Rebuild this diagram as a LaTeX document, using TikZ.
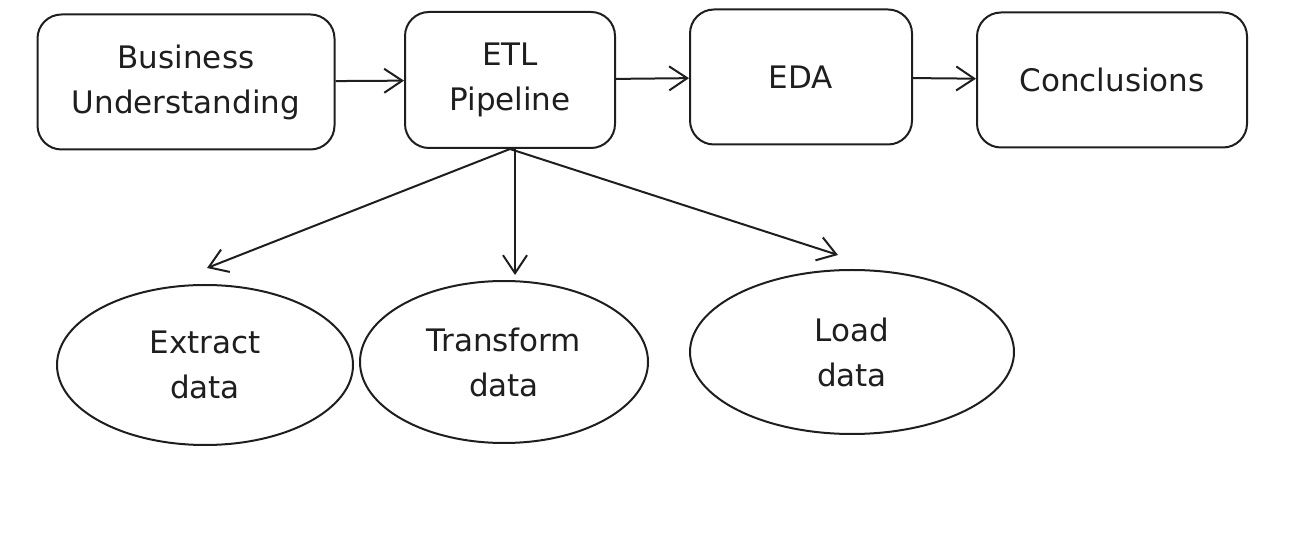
\documentclass[tikz,border=0pt]{standalone}
\usepackage{fontspec}
\setmainfont{DejaVu Sans}
\usetikzlibrary{shapes.geometric,arrows.meta}
\definecolor{ink}{HTML}{1E1E1E}

\begin{document}
\begin{tikzpicture}[x=0.5pt,y=-0.5pt,->,>={Straight Barb[length=9pt,width=12pt]},thick,line width=1pt,draw=ink,
  box node/.style={rectangle,rounded corners=12pt,draw,inner sep=0pt,align=center,font=\fontsize{15.5}{22.5}\selectfont,text=ink},
  blob node/.style={ellipse,draw,inner sep=0pt,align=center,font=\fontsize{15.5}{22.5}\selectfont,text=ink}]

            \useasboundingbox (0,0) rectangle (1315,560);

            \node[box node, minimum width=148.5pt, minimum height=67.5pt] (1) at (186,82) {Business\\Understanding};
            \node[box node, minimum width=105pt, minimum height=68pt] (2) at (510,80) {ETL\\Pipeline};
            \node[box node, minimum width=111pt, minimum height=67.5pt] (3) at (801,77) {EDA};
            \node[box node, minimum width=135pt, minimum height=67.5pt] (4) at (1112,80) {Conclusions};

            \node[blob node, minimum width=148pt, minimum height=80pt] (5) at (205,365) {Extract\\data};
            \node[blob node, minimum width=144pt, minimum height=81pt] (6) at (504,362) {Transform\\data};
            \node[blob node, minimum width=162pt, minimum height=82pt] (7) at (852,352) {Load\\data};

            \coordinate (e) at (207,268);
            \coordinate (t) at (515,275);
            \coordinate (l) at (838,255);

            \draw (1) to (2);
            \draw (2) to (3);
            \draw (3) to (4);
            \draw (2.south) to (e);
            \draw (2.south) ++(5,0) to (t);
            \draw (2.south) to (l);

            ;
        \end{tikzpicture}
\end{document}
